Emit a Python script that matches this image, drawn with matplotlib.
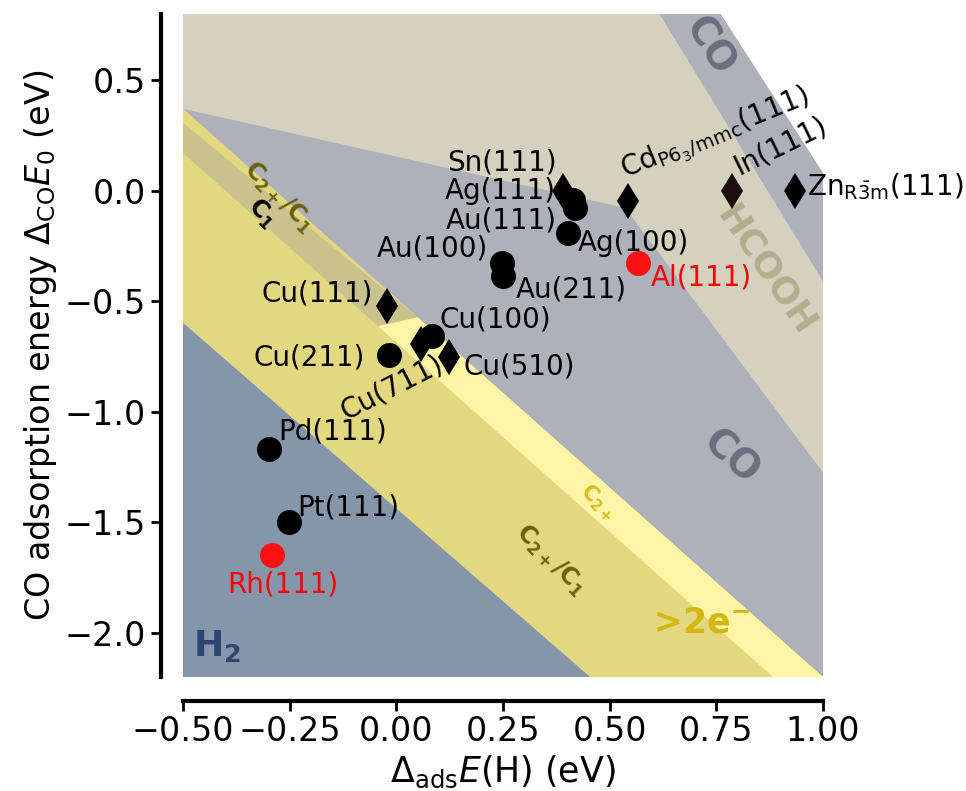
import matplotlib.pyplot as plt

# product regions (corners in eV)
hcooh_x = [-0.5, 0.76, 1.0, 1.0, -0.5]
hcooh_y = [0.8, 0.8, 0.08, -2.2, -2.2]
co_strip_x = [0.617, 0.76, 1.0, 1.0]
co_strip_y = [0.8, 0.8, 0.08, -0.41]
co_x = [-0.5, 0.536, 1.0, 1.0]
co_y = [0.371, -0.077, -1.275, -2.2]
c2c1_x = [-0.5, 1.0, 0.454, -0.5]
c2c1_y = [0.371, -2.2, -2.2, -0.597]
h2_x = [-0.5, 0.454, -0.5]
h2_y = [-0.597, -2.2, -2.2]
c2_x = [-0.043, 0.05, 1.0, 0.883]
c2_y = [-0.612, -0.572, -2.2, -2.2]
c1_x = [-0.5, 0.05, -0.043, -0.5]
c1_y = [0.308, -0.572, -0.612, 0.171]

# surfaces
circ_names = ['Pd(111)', 'Pt(111)', 'Cu(211)', 'Cu(100)', 'Au(100)', 'Au(211)',
              'Ag(100)', 'Ag(111)', 'Au(111)']
circ_dH = [-0.298, -0.252, -0.016, 0.083, 0.247, 0.251, 0.403, 0.415, 0.419]
circ_dCO = [-1.167, -1.499, -0.745, -0.656, -0.325, -0.385, -0.189, -0.041, -0.078]

red_names = ['Rh(111)', 'Al(111)']
red_dH = [-0.291, 0.567]
red_dCO = [-1.650, -0.327]

dia_names = ['Cu(111)', 'Cu(711)', 'Cu(510)', 'Sn(111)',
             r'Cd$_{\mathrm{P6_3/mmc}}$(111)', 'In(111)', r'Zn$_{\mathrm{R\bar{3}m}}$(111)']
dia_dH = [-0.022, 0.059, 0.124, 0.391, 0.542, 0.786, 0.934]
dia_dCO = [-0.519, -0.692, -0.75, 0.0, -0.044, 0.0, 0.0]

# label placement: offset in pixels, alignment, rotation
lab = {
    'Pd(111)': (9, 17, 'left', 'center', 0),
    'Pt(111)': (8, 15, 'left', 'center', 0),
    'Cu(211)': (-25, -2, 'right', 'center', 0),
    'Cu(100)': (8, 16, 'left', 'center', 0),
    'Au(100)': (-14, 14, 'right', 'center', 0),
    'Au(211)': (12, -14, 'left', 'center', 0),
    'Ag(100)': (9, -10, 'left', 'center', 0),
    'Ag(111)': (-18, 9, 'right', 'center', 0),
    'Au(111)': (-18, -12, 'right', 'center', 0),
    'Rh(111)': (11, -29, 'center', 'center', 0),
    'Al(111)': (13, -14, 'left', 'center', 0),
    'Cu(111)': (-14, 12, 'right', 'center', 0),
    'Cu(711)': (-30, -44, 'center', 'center', 27),
    'Cu(510)': (14, -10, 'left', 'center', 0),
    'Sn(111)': (-6, 28, 'right', 'center', 0),
    dia_names[4]: (1, 13, 'left', 'bottom', 22),
    'In(111)': (10, 11, 'left', 'bottom', 26),
    dia_names[6]: (12, 4, 'left', 'center', 0),
}

fig = plt.figure(figsize=(9.66, 7.91), dpi=100)
ax = fig.add_axes([0.1894, 0.1441, 0.6626, 0.8382])

ax.fill(hcooh_x, hcooh_y, color='#d4d1be', lw=0)
ax.fill(co_strip_x, co_strip_y, color='#aeb1ba', lw=0)
ax.fill(co_x, co_y, color='#aeb1ba', lw=0)
ax.fill(c2c1_x, c2c1_y, color='#e3d87f', lw=0)
ax.fill(h2_x, h2_y, color='#8596ab', lw=0)
ax.fill(c2_x, c2_y, color='#fef4a5', lw=0)
ax.fill(c1_x, c1_y, color='#c9c28c', lw=0)

ax.plot(circ_dH, circ_dCO, 'o', color='black', ms=18, mew=0, zorder=5)
ax.plot(red_dH, red_dCO, 'o', color='#ff1010', ms=18, mew=0, zorder=5)
ax.plot(dia_dH[:5] + dia_dH[6:], dia_dCO[:5] + dia_dCO[6:], 'd', color='black',
        ms=18, mew=0, zorder=5)
ax.plot(dia_dH[5], dia_dCO[5], 'd', color='#1c0c0c', ms=18, mew=0, zorder=5)

for names, xs, ys, col in [(circ_names, circ_dH, circ_dCO, 'black'),
                           (red_names, red_dH, red_dCO, 'red'),
                           (dia_names, dia_dH, dia_dCO, 'black')]:
    for n, x, y in zip(names, xs, ys):
        dx, dy, ha, va, rot = lab[n]
        ax.annotate(n, (x, y), xytext=(dx, dy), textcoords='offset pixels',
                    ha=ha, va=va, rotation=rot, rotation_mode='anchor',
                    fontsize=20, color=col, zorder=6)

# region names
ax.text(0.733, 0.656, 'CO', fontsize=28, fontweight='bold', color='#6b6e7d',
        rotation=-58, ha='center', va='center')
ax.text(0.866, -0.36, 'HCOOH', fontsize=26, fontweight='bold', color='#b3ae8e',
        rotation=-56, ha='center', va='center')
ax.text(0.784, -1.204, 'CO', fontsize=28, fontweight='bold', color='#6b6e7d',
        rotation=-42, ha='center', va='center')
ax.text(0.473, -1.407, r'$\mathbf{C_{2+}}$', fontsize=15, color='#d9bf1e',
        rotation=-45, ha='center', va='center')
ax.text(0.362, -1.67, r'$\mathbf{C_{2+}/C_1}$', fontsize=17, color='#6b6012',
        rotation=-45, ha='center', va='center')
ax.text(-0.275, -0.027, r'$\mathbf{C_{2+}/C_1}$', fontsize=17, color='#6b6012',
        rotation=-45, ha='center', va='center')
ax.text(-0.315, -0.10, r'$\mathbf{C_1}$', fontsize=17, color='black',
        rotation=-45, ha='center', va='center')
ax.text(0.716, -1.955, r'>2e$^{\mathbf{-}}$', fontsize=25, fontweight='bold',
        color='#d3b814', ha='center', va='center')
ax.text(-0.477, -2.06, r'$\mathbf{H_2}$', fontsize=26, color='#2c4670',
        ha='left', va='center')

ax.set_xlim(-0.5, 1.0)
ax.set_ylim(-2.2, 0.8)
ax.set_xticks([-0.5, -0.25, 0.0, 0.25, 0.5, 0.75, 1.0])
ax.set_yticks([-2.0, -1.5, -1.0, -0.5, 0.0, 0.5])
ax.set_xlabel(r'$\Delta_{\mathrm{ads}}E$(H) (eV)', fontsize=25)
ax.set_ylabel(r'CO adsorption energy $\Delta_{\mathrm{CO}}E_0$ (eV)', fontsize=24)
ax.tick_params(labelsize=24, width=2, length=7)

ax.spines['top'].set_visible(False)
ax.spines['right'].set_visible(False)
ax.spines['left'].set_position(('outward', 16))
ax.spines['bottom'].set_position(('outward', 17))
ax.spines['left'].set_linewidth(3)
ax.spines['bottom'].set_linewidth(3)

fig.savefig('out.png', dpi=100)
